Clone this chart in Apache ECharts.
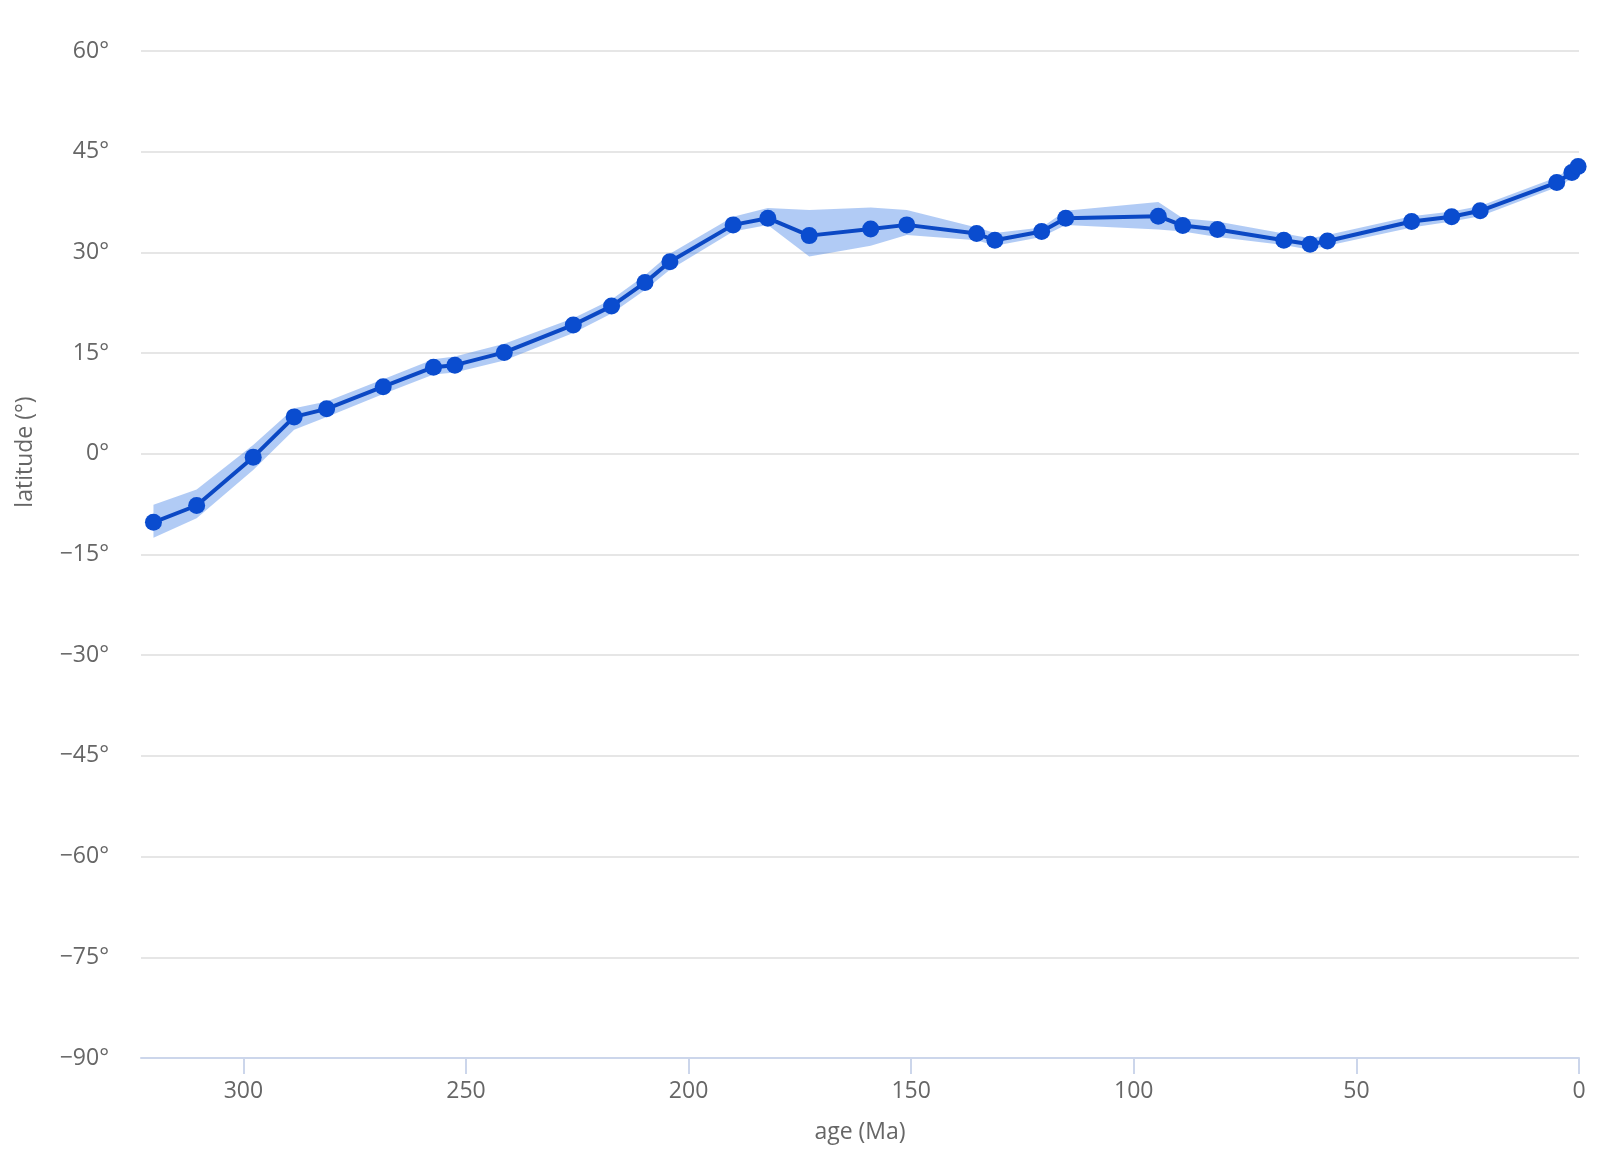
<!DOCTYPE html>
<html>
<head>
<meta charset="utf-8">
<script src="https://cdn.jsdelivr.net/npm/echarts@6/dist/echarts.min.js"></script>
<style>
  html, body { margin: 0; padding: 0; background: #ffffff; }
  #chart { width: 1600px; height: 1159px; }
</style>
</head>
<body>
<div id="chart"></div>
<script>
// age (Ma)
const ages = [320.2, 310.5, 297.8, 288.6, 281.3, 268.6, 257.3, 252.5, 241.4, 225.9,
              217.3, 209.8, 204.2, 190.0, 182.2, 172.9, 159.1, 151.0, 135.3, 131.2,
              120.7, 115.3, 94.5, 89.0, 81.2, 66.3, 60.4, 56.5, 37.6, 28.6,
              22.2, 5.0, 1.6, 0.2];
// paleolatitude (°)
const latitudes = [-10.2, -7.7, -0.5, 5.5, 6.7, 10.0, 12.9, 13.2, 15.1, 19.2,
                   22.0, 25.5, 28.6, 34.1, 35.1, 32.5, 33.5, 34.1, 32.8, 31.8,
                   33.1, 35.1, 35.4, 34.0, 33.4, 31.8, 31.2, 31.7, 34.6, 35.3,
                   36.2, 40.4, 41.9, 42.8];
// uncertainty band, upper edge
const upper = [-7.6, -5.3, 1.3, 6.8, 7.8, 11.1, 14.1, 14.5, 16.4, 20.2,
               23.0, 26.6, 29.8, 35.3, 36.6, 36.3, 36.7, 36.3, 33.7, 32.9,
               33.7, 36.2, 37.5, 35.1, 34.6, 32.8, 32.1, 32.6, 35.4, 36.1,
               36.9, 41.2, 42.7, 43.5];
// uncertainty band, lower edge
const lower = [-12.5, -9.6, -2.4, 3.6, 5.5, 8.9, 11.8, 12.1, 13.9, 18.0,
               20.9, 24.4, 27.4, 33.1, 34.1, 29.4, 31.0, 32.6, 31.8, 31.0,
               32.3, 34.1, 33.4, 33.1, 32.3, 31.1, 30.4, 31.0, 33.7, 34.6,
               35.4, 39.7, 41.0, 42.0];

const yTicks = { min: -90, max: 60, interval: 15 };
const xTicks = { min: 0, max: 323, interval: 50 };
const xTickValues = [0, 50, 100, 150, 200, 250, 300];

const lineData = ages.map((a, i) => [a, latitudes[i]]);
const bandData = ages.map((a, i) => [a, lower[i], upper[i]]);

const FONT = '"Open Sans", "Noto Sans", sans-serif';

const chart = echarts.init(document.getElementById('chart'), null, { renderer: 'canvas' });
chart.setOption({
  backgroundColor: '#ffffff',
  animation: false,
  grid: { left: 141, right: 21, top: 51, bottom: 101, containLabel: false },
  graphic: [{
    type: 'text',
    x: 25,
    y: 452,
    rotation: Math.PI / 2,
    style: {
      text: 'latitude (°)',
      fill: '#666666',
      font: '23px ' + FONT,
      textAlign: 'center',
      textVerticalAlign: 'middle'
    }
  }],
  xAxis: {
    type: 'value',
    inverse: true,
    min: xTicks.min,
    max: xTicks.max,
    interval: xTicks.interval,
    name: 'age (Ma)',
    nameLocation: 'middle',
    nameGap: 63,
    nameTextStyle: { color: '#666666', fontSize: 23, fontFamily: FONT },
    axisLine: { show: true, onZero: false, lineStyle: { color: '#ccd6eb', width: 2 } },
    axisTick: { show: true, length: 16, customValues: xTickValues, lineStyle: { color: '#ccd6eb', width: 2 } },
    axisLabel: { color: '#666666', fontSize: 23, fontFamily: FONT, margin: 22, customValues: xTickValues },
    splitLine: { show: false }
  },
  yAxis: {
    type: 'value',
    min: yTicks.min,
    max: yTicks.max,
    interval: yTicks.interval,
    axisLine: { show: false },
    axisTick: { show: false },
    axisLabel: {
      color: '#666666', fontSize: 23, fontFamily: FONT, margin: 32,
      formatter: v => String(v).replace('-', '\u2212') + '°'
    },
    splitLine: { show: true, lineStyle: { color: '#e6e6e6', width: 2 } }
  },
  series: [
    {
      type: 'custom',
      name: 'band',
      data: bandData,
      encode: { x: 0, y: [1, 2] },
      silent: true,
      z: 1,
      renderItem: function (params, api) {
        if (params.dataIndex !== 0) return null;
        const top = [], bot = [];
        for (let i = 0; i < bandData.length; i++) {
          top.push(api.coord([bandData[i][0], bandData[i][2]]));
          bot.push(api.coord([bandData[i][0], bandData[i][1]]));
        }
        const pts = top.concat(bot.reverse());
        return {
          type: 'polygon',
          shape: { points: pts },
          style: { fill: 'rgba(70,130,230,0.42)', stroke: 'none' }
        };
      }
    },
    {
      type: 'line',
      name: 'latitude',
      data: lineData,
      z: 3,
      symbol: 'circle',
      symbolSize: 17,
      showAllSymbol: true,
      lineStyle: { color: '#0b48c4', width: 4 },
      itemStyle: { color: '#0a4ccf', borderWidth: 0 }
    }
  ]
});
</script>
</body>
</html>
